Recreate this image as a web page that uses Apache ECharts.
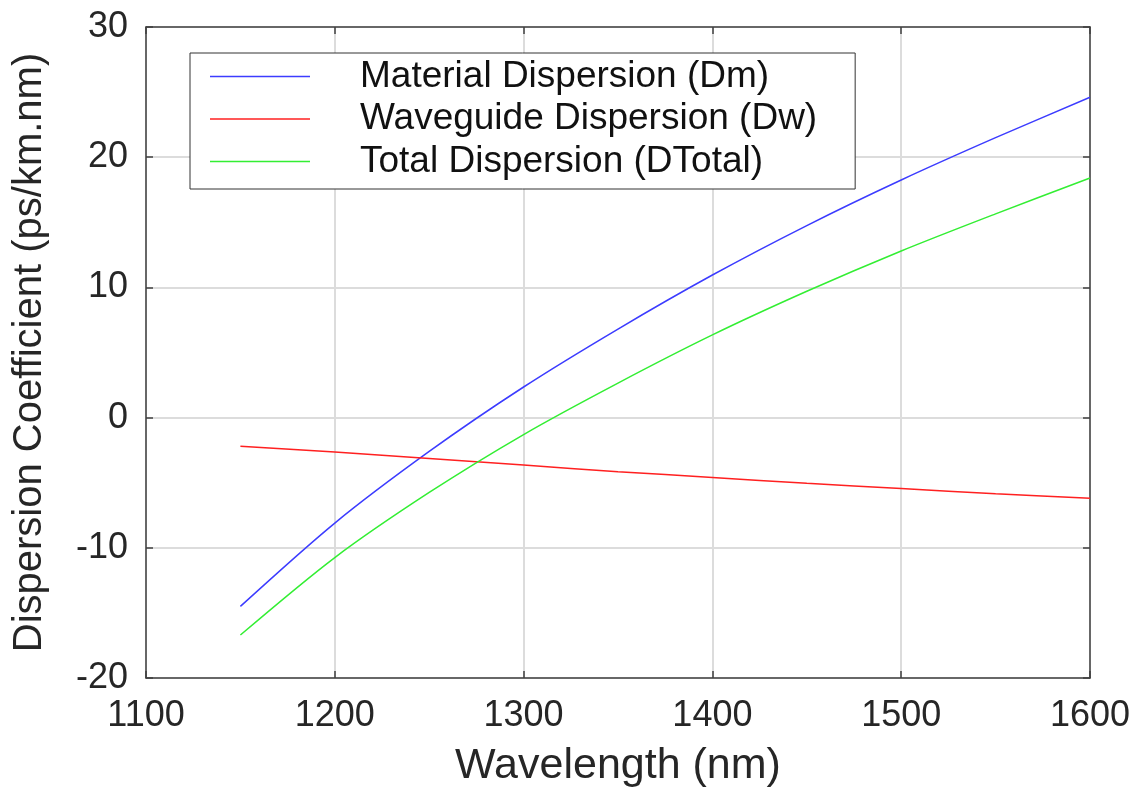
<!DOCTYPE html>
<html>
<head>
<meta charset="utf-8">
<script src="https://cdn.jsdelivr.net/npm/echarts@6/dist/echarts.min.js"></script>
<style>
  html, body { margin: 0; padding: 0; background: #fff; }
  #chart { width: 1139px; height: 788px; }
</style>
</head>
<body>
<div id="chart"></div>
<script>
// wavelength (nm)
const wavelengths = [1150, 1200, 1250, 1300, 1350, 1400, 1450, 1500, 1550, 1600]
// Material Dispersion (Dm)
const dmValues = [-14.5, -8.1, -2.6, 2.35, 6.8, 10.95, 14.75, 18.25, 21.5, 24.6]
// Waveguide Dispersion (Dw)
const dwValues = [-2.2, -2.65, -3.15, -3.65, -4.15, -4.6, -5.05, -5.45, -5.85, -6.2]
// Total Dispersion (DTotal)
const dtValues = [-16.7, -10.75, -5.75, -1.3, 2.65, 6.35, 9.7, 12.8, 15.65, 18.4]

const xTicks = [1100, 1600, 100]
const yTicks = [-20, 30, 10]

const font = 'Liberation Sans, Arial, sans-serif'
const axisColor = '#404040'
const textColor = '#262626'

const pairs = (ys) => wavelengths.map((w, i) => [w, ys[i]])

const chart = echarts.init(document.getElementById('chart'))

const lineSeries = (name, ys, color) => ({
  name,
  type: 'line',
  data: pairs(ys),
  smooth: 0.3,
  symbol: 'none',
  showSymbol: false,
  xAxisIndex: 0,
  yAxisIndex: 0,
  lineStyle: { color, width: 1.5 },
  itemStyle: { color }
})

chart.setOption({
  animation: false,
  backgroundColor: '#fff',
  textStyle: { fontFamily: font },
  grid: { left: 146, right: 49, top: 27, bottom: 110, outerBoundsMode: 'none', containLabel: false },
  legend: {
    orient: 'vertical',
    left: 190,
    top: 53,
    backgroundColor: '#fff',
    borderColor: '#333',
    borderWidth: 1,
    padding: [5, 38, 9, 20],
    icon: 'path://M0,0L100,0L100,1.5L0,1.5Z',
    itemWidth: 100,
    itemHeight: 1.5,
    itemGap: 5.5,
    textStyle: {
      fontFamily: font,
      fontSize: 37,
      lineHeight: 37,
      color: '#111',
      padding: [0, 0, 0, 45]
    },
    data: ['Material Dispersion (Dm)', 'Waveguide Dispersion (Dw)', 'Total Dispersion (DTotal)']
  },
  xAxis: [
    {
      type: 'value',
      min: xTicks[0], max: xTicks[1], interval: xTicks[2],
      name: 'Wavelength (nm)',
      nameLocation: 'middle',
      nameGap: 67,
      nameTextStyle: { fontFamily: font, fontSize: 43, color: textColor },
      axisLine: { show: true, onZero: false, lineStyle: { color: axisColor, width: 1.5 } },
      axisTick: { show: true, inside: true, length: 7, lineStyle: { color: axisColor, width: 1.5 } },
      axisLabel: { fontFamily: font, fontSize: 36, color: textColor, margin: 20, formatter: v => String(v) },
      splitLine: { show: true, lineStyle: { color: '#dcdcdc', width: 2 } }
    },
    {
      type: 'value',
      position: 'top',
      min: xTicks[0], max: xTicks[1], interval: xTicks[2],
      axisLine: { show: true, onZero: false, lineStyle: { color: axisColor, width: 1.5 } },
      axisTick: { show: true, inside: true, length: 7, lineStyle: { color: axisColor, width: 1.5 } },
      axisLabel: { show: false },
      splitLine: { show: false }
    }
  ],
  yAxis: [
    {
      type: 'value',
      min: yTicks[0], max: yTicks[1], interval: yTicks[2],
      name: 'Dispersion Coefficient (ps/km.nm)',
      nameLocation: 'middle',
      nameGap: 96,
      nameTextStyle: { fontFamily: font, fontSize: 40, color: textColor },
      axisLine: { show: true, onZero: false, lineStyle: { color: axisColor, width: 1.5 } },
      axisTick: { show: true, inside: true, length: 7, lineStyle: { color: axisColor, width: 1.5 } },
      axisLabel: { fontFamily: font, fontSize: 36, color: textColor, margin: 18 },
      splitLine: { show: true, lineStyle: { color: '#dcdcdc', width: 2 } }
    },
    {
      type: 'value',
      position: 'right',
      min: yTicks[0], max: yTicks[1], interval: yTicks[2],
      axisLine: { show: true, onZero: false, lineStyle: { color: axisColor, width: 1.5 } },
      axisTick: { show: true, inside: true, length: 7, lineStyle: { color: axisColor, width: 1.5 } },
      axisLabel: { show: false },
      splitLine: { show: false }
    }
  ],
  series: [
    lineSeries('Material Dispersion (Dm)', dmValues, '#3c3cff'),
    lineSeries('Waveguide Dispersion (Dw)', dwValues, '#ff2020'),
    lineSeries('Total Dispersion (DTotal)', dtValues, '#33ee33')
  ]
})
</script>
</body>
</html>
